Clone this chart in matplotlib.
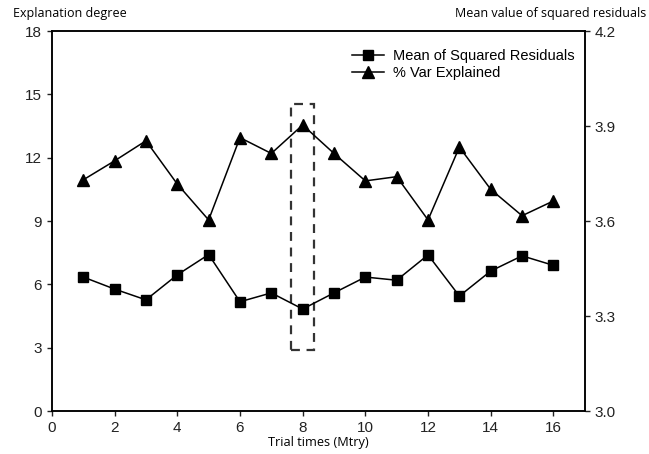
import matplotlib
matplotlib.use("Agg")
import matplotlib.pyplot as plt
from matplotlib.patches import Rectangle

# trial index (Mtry)
trials = list(range(1, 17))
# % Var Explained (left axis)
var_explained = [10.95, 11.85, 12.8, 10.75, 9.05, 12.95, 12.2, 13.55,
                 12.2, 10.9, 11.1, 9.05, 12.5, 10.5, 9.25, 9.95]
# Mean of Squared Residuals (right axis)
mse = [3.423, 3.385, 3.351, 3.430, 3.494, 3.345, 3.373, 3.322,
       3.373, 3.423, 3.413, 3.493, 3.363, 3.442, 3.490, 3.460]
# highlighted best trial
best_box = (7.62, 8.35, 2.9, 14.55)

plt.rcParams['font.family'] = ['Liberation Sans', 'DejaVu Sans']

fig = plt.figure(figsize=(6.49, 4.54), dpi=100)
ax = fig.add_axes([0.080, 0.0947, 0.821, 0.837])
ax2 = ax.twinx()

l2, = ax.plot(trials, var_explained, color='black', lw=1.1, marker='^',
              markersize=8.5, label='% Var Explained')
l1, = ax2.plot(trials, mse, color='black', lw=1.1, marker='s',
               markersize=7, label='Mean of Squared Residuals')

x0, x1, y0, y1 = best_box
ax.add_patch(Rectangle((x0, y0), x1 - x0, y1 - y0, fill=False,
                       edgecolor='#333333', lw=1.6, ls=(0, (4, 3))))

ax.set_xlim(0, 17)
ax.set_ylim(0, 18)
ax2.set_ylim(3.0, 4.2)
ax.set_xticks(range(0, 17, 2))
ax.set_yticks(range(0, 19, 3))
ax2.set_yticks([3.0, 3.3, 3.6, 3.9, 4.2])
ax2.set_yticklabels(['3.0', '3.3', '3.6', '3.9', '4.2'])

for a in (ax, ax2):
    a.tick_params(direction='out', length=3.5, width=1, labelsize=11, colors='#222222')
    for s in a.spines.values():
        s.set_linewidth(1.1)

lab_font = ['Open Sans', 'DejaVu Sans']
ax.set_xlabel('Trial times (Mtry)', family=lab_font, fontsize=9.2, labelpad=1)
fig.text(0.02, 0.97, 'Explanation degree', family=lab_font,
         fontsize=9, ha='left', va='center')
fig.text(0.995, 0.97, 'Mean value of squared residuals', family=lab_font,
         fontsize=9, ha='right', va='center')

ax2.legend(handles=[l1, l2], loc='upper right', frameon=False, fontsize=10.5,
           handlelength=2.2, handletextpad=0.6, borderaxespad=0.3,
           labelspacing=0.25, bbox_to_anchor=(1.0, 0.98))

fig.savefig('out.png', dpi=100)
